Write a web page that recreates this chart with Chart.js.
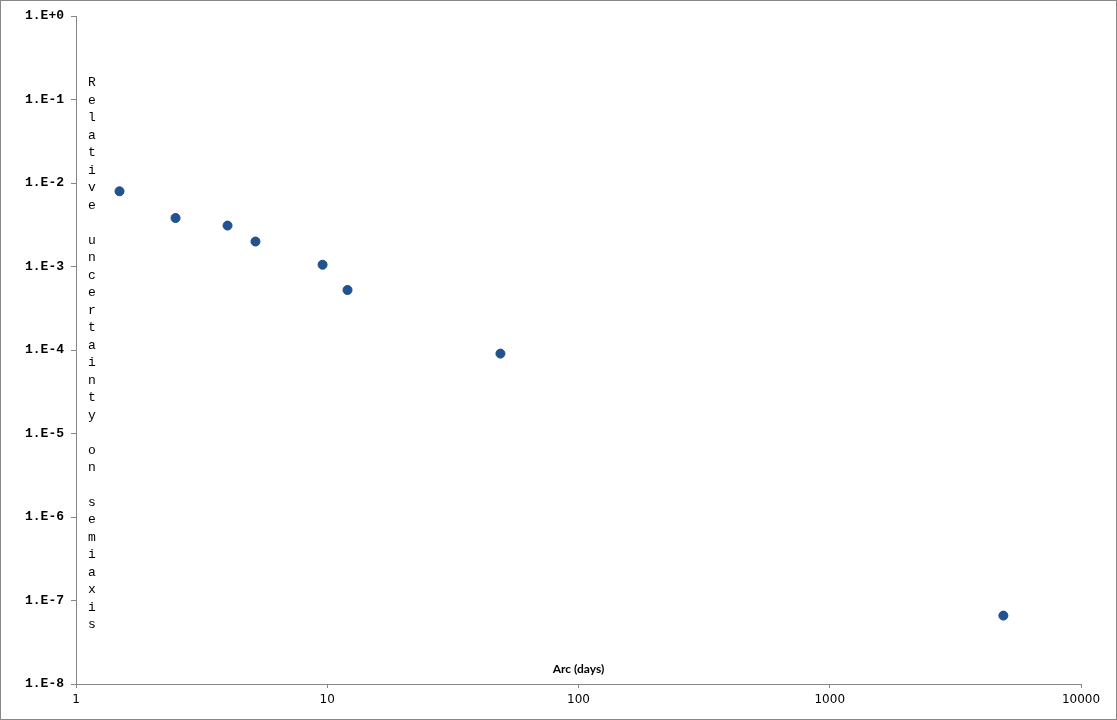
<!DOCTYPE html>
<html>
<head>
<meta charset="utf-8">
<script src="https://cdn.jsdelivr.net/npm/chart.js@4/dist/chart.umd.min.js"></script>
<style>
  html, body { margin: 0; padding: 0; background: #fff; }
  canvas { display: block; }
</style>
</head>
<body>
<canvas id="c" width="1117" height="720"></canvas>
<script>
// Data
const arcDays = [1.49, 2.49, 4.01, 5.18, 9.58, 12.04, 48.9, 4910];
const relUncertainty = [7.96e-3, 3.81e-3, 3.09e-3, 1.99e-3, 1.05e-3, 5.23e-4, 9.05e-5, 6.59e-8];
const xTickValues = [1, 10, 100, 1000, 10000];
const yTickValues = [1, 1e-1, 1e-2, 1e-3, 1e-4, 1e-5, 1e-6, 1e-7, 1e-8];
const xTitle = "Arc (days)";
const yTitle = "Relative uncertainty on semiaxis";

const axisGray = '#868686';

const points = arcDays.map((x, i) => ({ x: x, y: relUncertainty[i] }));

const decorPlugin = {
  id: 'decor',
  afterDraw(chart) {
    const ctx = chart.ctx;
    const area = chart.chartArea;
    ctx.save();
    // outer frame
    ctx.strokeStyle = '#888888';
    ctx.lineWidth = 1;
    ctx.strokeRect(0.5, 0.5, chart.width - 1, chart.height - 1);
    // vertical y title (stacked letters)
    ctx.fillStyle = '#000';
    ctx.font = '13px "Liberation Mono", "Courier New", monospace';
    ctx.textAlign = 'center';
    ctx.textBaseline = 'middle';
    const chars = Array.from(yTitle);
    const startY = 83, step = 17.48;
    chars.forEach((ch, i) => {
      if (ch !== ' ') ctx.fillText(ch, area.left + 16, startY + i * step);
    });
    // x title inside plot area
    ctx.font = 'bold 12px Lato, "Liberation Sans", sans-serif';
    ctx.fillText(xTitle, (area.left + area.right) / 2, area.bottom - 15);
    ctx.restore();
  }
};

new Chart(document.getElementById('c'), {
  type: 'scatter',
  data: {
    datasets: [{
      data: points,
      backgroundColor: '#215391',
      borderColor: '#1d4a84',
      borderWidth: 1,
      pointRadius: 4.5,
      pointHoverRadius: 4.5
    }]
  },
  options: {
    responsive: false,
    animation: false,
    events: [],
    layout: { padding: { left: 0, right: 36, top: 16, bottom: 0 } },
    plugins: { legend: { display: false }, tooltip: { enabled: false }, title: { display: false } },
    scales: {
      x: {
        type: 'logarithmic',
        min: 1, max: 10000,
        afterBuildTicks(scale) { scale.ticks = xTickValues.map(v => ({ value: v, major: true })); },
        afterFit(scale) { scale.height = 36; },
        ticks: {
          autoSkip: false,
          maxRotation: 0,
          color: '#000',
          font: { family: '"DejaVu Sans", Verdana, sans-serif', size: 12 },
          padding: 5,
          callback: (v) => String(v)
        },
        grid: { drawOnChartArea: false, drawTicks: true, tickLength: 4, color: axisGray },
        border: { display: true, color: axisGray, width: 1 }
      },
      y: {
        type: 'logarithmic',
        min: 1e-8, max: 1,
        afterBuildTicks(scale) { scale.ticks = yTickValues.map(v => ({ value: v, major: true })); },
        afterFit(scale) { scale.width = 76; },
        ticks: {
          autoSkip: false,
          color: '#000',
          font: { family: '"Liberation Mono", "Courier New", monospace', size: 13, weight: 'bold' },
          padding: 7,
          callback: (v) => {
            const e = Math.round(Math.log10(v));
            return '1.E' + (e >= 0 ? '+' : '-') + Math.abs(e);
          }
        },
        grid: { drawOnChartArea: false, drawTicks: true, tickLength: 5, color: axisGray },
        border: { display: true, color: axisGray, width: 1 }
      }
    }
  },
  plugins: [decorPlugin]
});
</script>
</body>
</html>
